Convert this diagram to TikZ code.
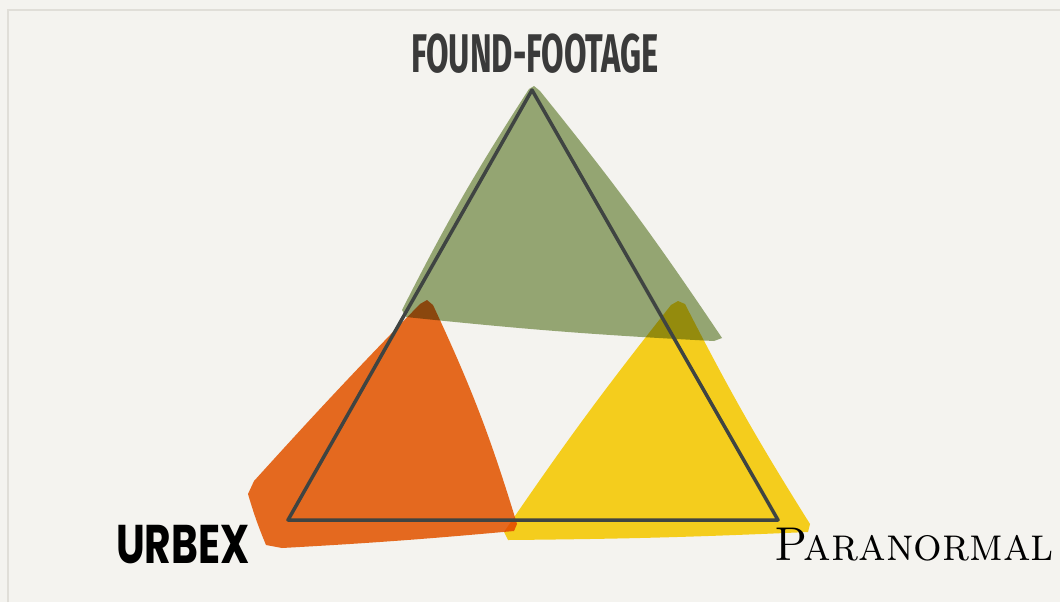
\documentclass[tikz,border=0pt]{standalone}
\usepackage{fontspec}
\usepackage{graphicx}
\newfontfamily\footagefont{Fira Sans}
\newfontfamily\urbexfont{Poppins}

\definecolor{paper}{HTML}{F4F3EF}
\definecolor{frameline}{HTML}{E0DED8}
\definecolor{moss}{HTML}{9BAE7A}
\definecolor{rust}{HTML}{EF6F22}
\definecolor{mustard}{HTML}{FFD820}
\definecolor{slate}{HTML}{3F4442}
\definecolor{ink}{HTML}{3A3A3A}

\begin{document}
\begin{tikzpicture}
[
	x=0.02cm,y=-0.02cm,
	edge/.style={slate,line width=0.07cm,line join=round},
	genre/.style={inner sep=0pt,anchor=base}
]

	% paper and frame
	\fill[paper] (0,0) rectangle (1060,602);
	\useasboundingbox (0,0) rectangle (1060,602);
	\draw[frameline,line width=0.03cm] (8,602) -- (8,10) -- (1060,10);

	% blobs
	\begin{scope}[blend mode=multiply]
	\fill[mustard] (671,305) -- (678,301) -- (685,304) to[bend right=2.5] (810,524) -- (808,532) to[bend left=1] (508,540) -- (504,532) to[bend left=2] (671,305);
	\fill[rust] (420,304) -- (427,300) -- (433,305) to[bend left=4] (517,524) -- (514,531) to[bend left=1] (282,548) -- (266,545) to[bend left=3] (248,494) -- (254,481) to[bend left=1] (420,304);
	\fill[moss] (529,89) -- (534,86) -- (540,91) to[bend left=2.5] (718,332) -- (722,338) -- (714,341) to[bend left=1.5] (406,317) -- (402,310) to[bend left=3] (529,89);
	\end{scope}

	% triangle
	\coordinate (top) at (532,90);
	\coordinate (left) at (288,520);
	\coordinate (right) at (778,520);
	\draw[edge] (top) -- (left) -- (right) -- cycle;

	% labels
	\node[genre,ink] (found) at (535,72) {\scalebox{0.6}[1]{\footagefont\fontsize{31}{31}\selectfont\bfseries FOUND-FOOTAGE}};
	\node[genre,black] (urbex) at (183,563) {\scalebox{0.75}[1]{\urbexfont\fontsize{31}{31}\selectfont\bfseries URBEX}};
	\node[genre,black] (paranormal) at (914,560) {\scalebox{0.95}[1]{\fontsize{27}{27}\selectfont\textsc{Paranormal}}};

\end{tikzpicture}
\end{document}
